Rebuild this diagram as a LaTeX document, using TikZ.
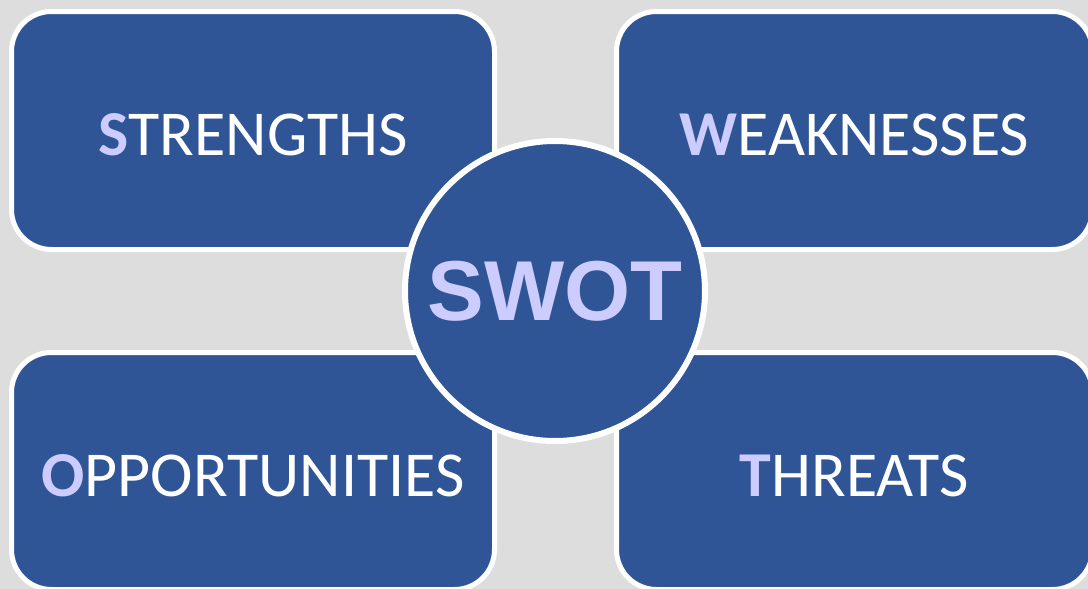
\documentclass[tikz,border=0pt]{standalone}
\usepackage{fontspec}
\setmainfont{Carlito}
\newfontfamily\swotfont{Liberation Sans}
\definecolor{swotblue}{HTML}{2F5597}
\definecolor{swotlav}{HTML}{CCCCFF}
\definecolor{swotbg}{HTML}{DDDDDD}
\newcommand{\swotcap}[1]{{\bfseries\color{swotlav}#1}}

\begin{document}
\begin{tikzpicture}[x=1pt,y=-1pt]
\tikzstyle{quad}=[draw=white, line width=5pt, fill=swotblue, rounded corners=40pt, inner sep=0pt, text=white, text height=51pt, font=\fontsize{64}{64}\selectfont]
\fill [swotbg] (0,0) rectangle (1088,589);
\useasboundingbox (0,0) rectangle (1088,589);
\node [quad, minimum width=483pt, minimum height=238pt] (str) at (253,130.5) {\swotcap{S}TRENGTHS};
\node [quad, minimum width=476pt, minimum height=238pt] (weak) at (854.5,130.5) {\swotcap{W}EAKNESSES};
\node [quad, minimum width=483pt, minimum height=237pt] (opp) at (253,471) {\swotcap{O}PPORTUNITIES};
\node [quad, minimum width=476pt, minimum height=237pt] (thr) at (854.5,471) {\swotcap{T}HREATS};
\node [circle, draw=white, line width=6pt, fill=swotblue, minimum size=300pt, inner sep=0pt, text=swotlav, font=\swotfont\bfseries\fontsize{85}{85}\selectfont] (swot) at (555,291) {SWOT};
\end{tikzpicture}
\end{document}
